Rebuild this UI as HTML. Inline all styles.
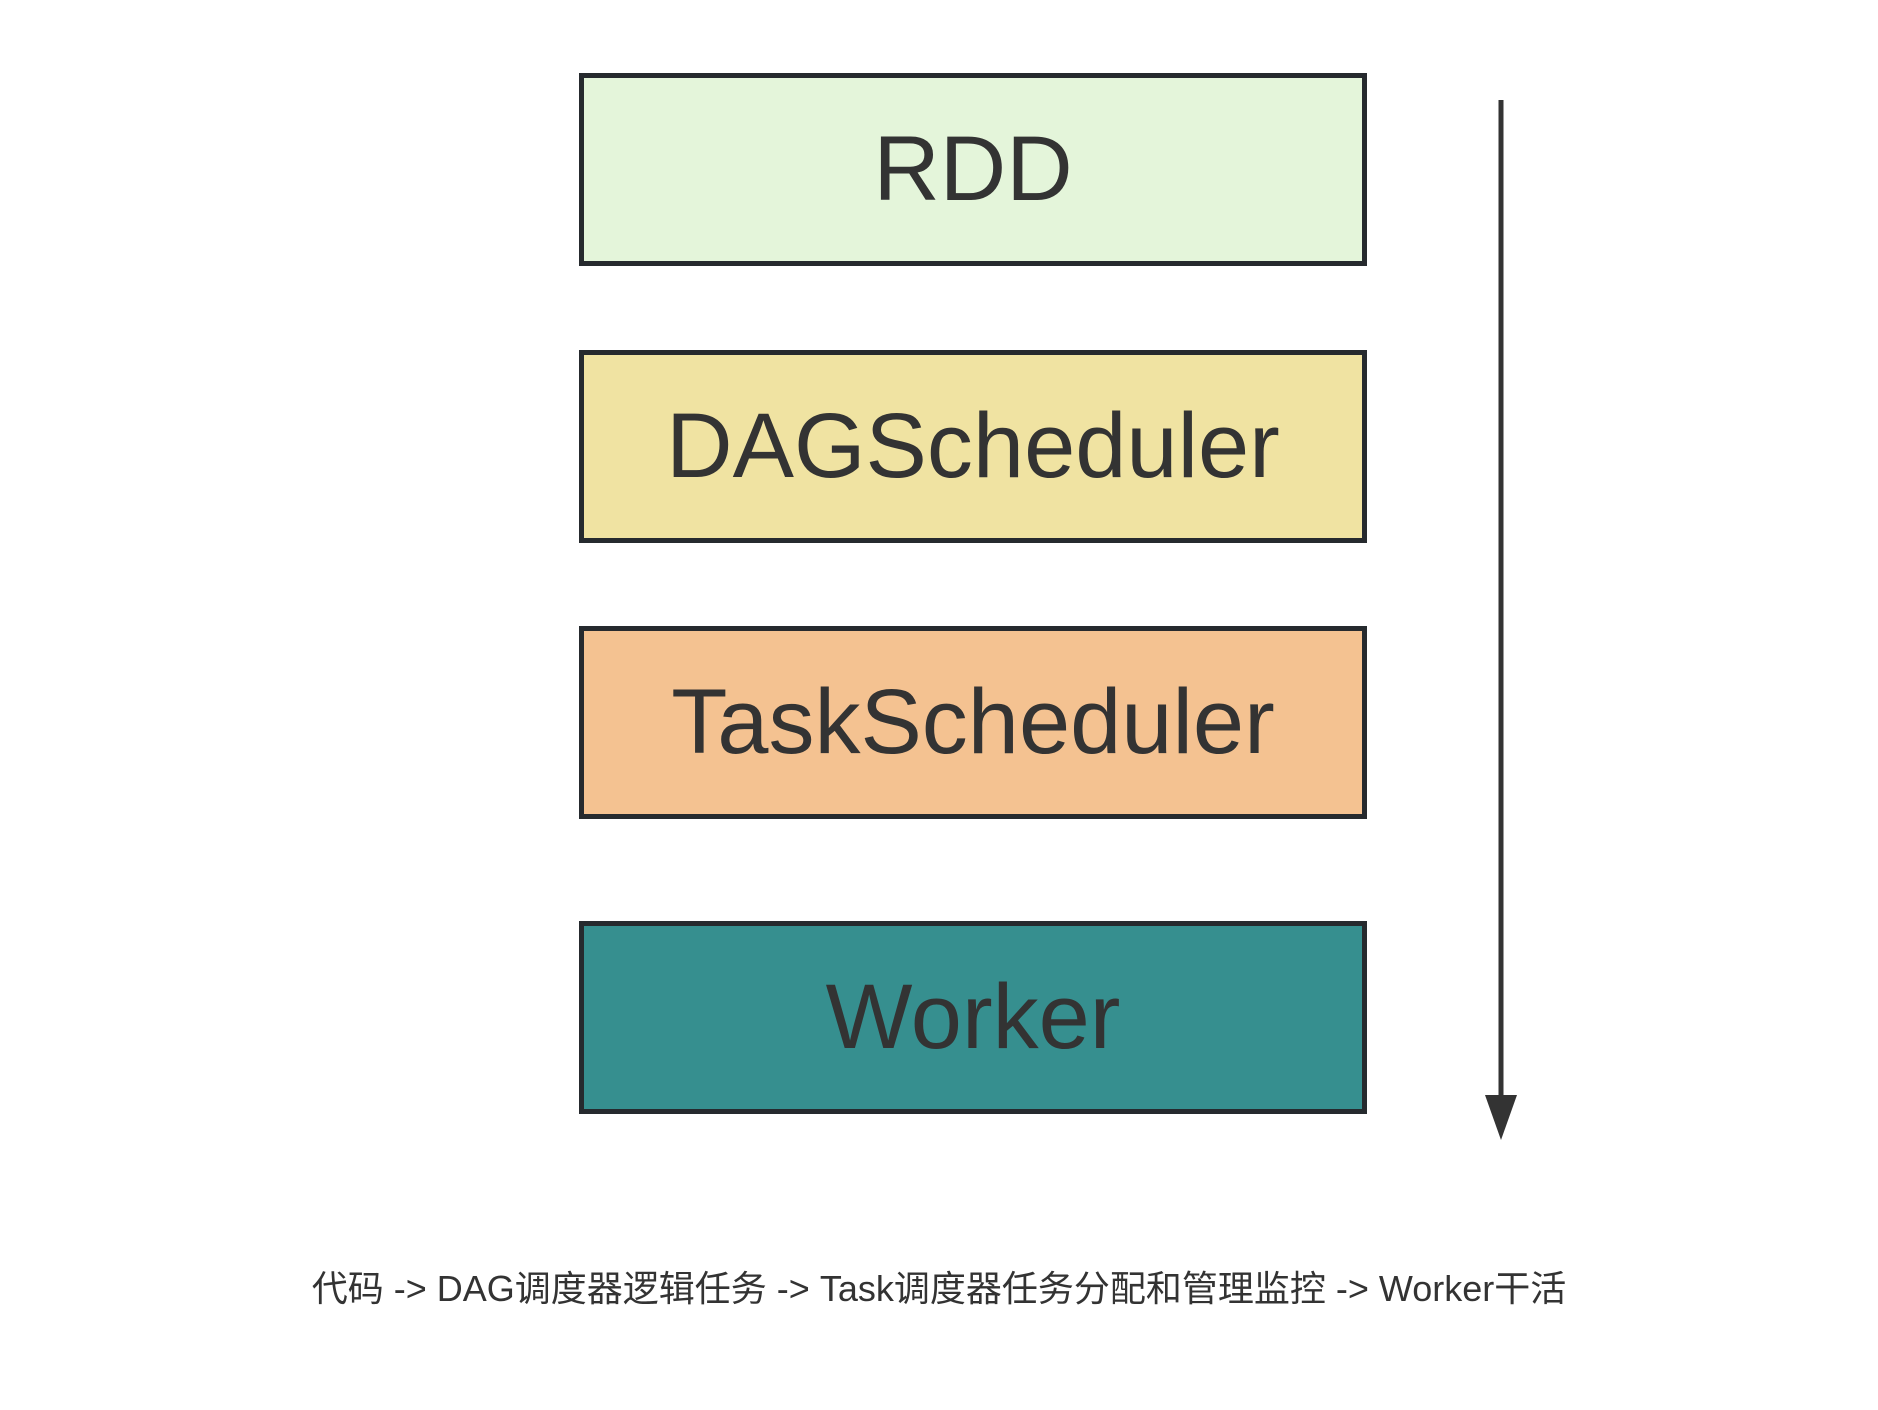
<!DOCTYPE html>
<html><head><meta charset="utf-8"><style>
body{margin:0;width:1878px;height:1410px;background:#fff;position:relative;font-family:"Liberation Sans","Noto Sans CJK SC",sans-serif;overflow:hidden}
.b{position:absolute;left:579px;width:778px;border:5px solid #262a2e;display:flex;align-items:center;justify-content:center;color:#333;font-size:92px;box-sizing:content-box}
.t{position:absolute;left:200px;width:1478px;top:1260px;text-align:center;font-size:36px;color:#333;white-space:nowrap}
</style></head><body>
<div class="b" style="top:73px;height:183px;background:#e4f5da">RDD</div>
<div class="b" style="top:350px;height:183px;background:#f0e3a2">DAGScheduler</div>
<div class="b" style="top:626px;height:183px;background:#f4c291">TaskScheduler</div>
<div class="b" style="top:921px;height:183px;background:#368f8f">Worker</div>
<svg style="position:absolute;left:0;top:0" width="1878" height="1410">
<line x1="1501" y1="100" x2="1501" y2="1100" stroke="#333" stroke-width="5"/>
<polygon points="1485,1095 1517,1095 1501,1140" fill="#333"/>
</svg>
<div class="t">代码 -&gt; DAG调度器逻辑任务 -&gt; Task调度器任务分配和管理监控 -&gt; Worker干活</div>
</body></html>
